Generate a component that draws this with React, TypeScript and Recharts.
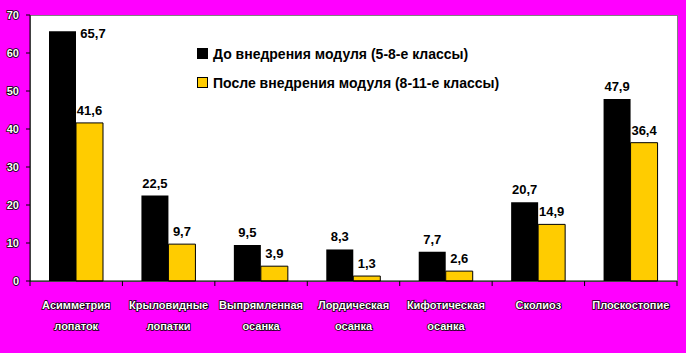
import React from 'react';
import { BarChart, Bar, XAxis, YAxis, LabelList } from 'recharts';

const categories = [
  ['Асимметрия', 'лопаток'],
  ['Крыловидные', 'лопатки'],
  ['Выпрямленная', 'осанка'],
  ['Лордическая', 'осанка'],
  ['Кифотическая', 'осанка'],
  ['Сколиоз', ''],
  ['Плоскостопие', ''],
];
const before = [65.7, 22.5, 9.5, 8.3, 7.7, 20.7, 47.9];
const after = [41.6, 9.7, 3.9, 1.3, 2.6, 14.9, 36.4];
const yTicks = [0, 10, 20, 30, 40, 50, 60, 70];
const seriesNames = ['До внедрения модуля (5-8-е классы)', 'После внедрения модуля (8-11-е классы)'];

const data = categories.map((c, i) => ({
  name: c.join(' '),
  line1: c[0],
  line2: c[1],
  before: before[i],
  after: after[i],
}));

const FONT = 'Arial, "Liberation Sans", sans-serif';
const YELLOW = '#FFCC00';

const outline = {
  fill: '#fff',
  stroke: '#000',
  strokeWidth: 1.6,
  paintOrder: 'stroke' as const,
  fontFamily: FONT,
  fontWeight: 'bold' as const,
};

const YTick = (props: any) => {
  const { x, y, payload } = props;
  return (
    <text x={x} y={y} dy={4} textAnchor="end" fontSize={11} style={outline}>
      {payload.value}
    </text>
  );
};

const XTick = (props: any) => {
  const { x, y, index } = props;
  const d = data[index];
  const band = 647 / data.length;
  const left = x - band / 2;
  return (
    <g>
      <line x1={left} x2={left} y1={y - 8} y2={y - 3} stroke="#000" />
      {index === data.length - 1 && (
        <line x1={left + band} x2={left + band} y1={y - 8} y2={y - 3} stroke="#000" />
      )}
      <text x={x} y={y + 20} textAnchor="middle" fontSize={11} style={outline}>
        {d.line1}
      </text>
      {d.line2 && (
        <text x={x} y={y + 41} textAnchor="middle" fontSize={11} style={outline}>
          {d.line2}
        </text>
      )}
    </g>
  );
};

// labels that would hit the top of the plot go to the right of the bar, as in the original
const ValueLabel = (props: any) => {
  const { x, y, width, value } = props;
  const text = String(value).replace('.', ',');
  let lx = x + width / 2;
  let ly = y - 8;
  if (y < 40) {
    lx = x + width + 17;
    ly = y + 7;
  }
  return (
    <text x={lx} y={ly} textAnchor="middle" fontSize={13} fontWeight="bold" fontFamily={FONT} fill="#000">
      {text}
    </text>
  );
};

const LegendBox = () => (
  <div
    style={{
      position: 'absolute',
      left: 197,
      top: 39,
      fontFamily: FONT,
      fontWeight: 'bold',
      fontSize: 14,
      color: '#000',
      whiteSpace: 'nowrap',
    }}
  >
    {seriesNames.map((n, i) => (
      <div key={n} style={{ display: 'flex', alignItems: 'center', height: 29 }}>
        <span
          style={{
            display: 'inline-block',
            width: 9,
            height: 9,
            background: i === 0 ? '#000' : YELLOW,
            border: '1px solid #000',
            marginRight: 5,
          }}
        />
        {n}
      </div>
    ))}
  </div>
);

export default function App() {
  return (
    <div style={{ position: 'absolute', left: 0, top: 0, width: 686, height: 353, background: '#FF00FF' }}>
      <div
        style={{
          position: 'absolute',
          left: 30,
          top: 15,
          width: 646,
          height: 265,
          background: '#fff',
          border: '1px solid #808080',
        }}
      />
      <div style={{ position: 'absolute', left: 0, top: 0 }}>
        <BarChart
          width={686}
          height={353}
          data={data}
          margin={{ top: 15, right: 9, bottom: 0, left: 0 }}
          barCategoryGap={19}
          barGap={0}
        >
          <XAxis
            dataKey="name"
            height={72}
            stroke="#000"
            tickLine={false}
            tick={<XTick />}
            interval={0}
          />
          <YAxis
            width={30}
            domain={[0, 70]}
            ticks={yTicks}
            stroke="#000"
            tickSize={4}
            tickMargin={7}
            tick={<YTick />}
          />
          <Bar dataKey="before" name={seriesNames[0]} fill="#000" isAnimationActive={false}>
            <LabelList dataKey="before" content={<ValueLabel />} />
          </Bar>
          <Bar dataKey="after" name={seriesNames[1]} fill={YELLOW} stroke="#000" strokeWidth={1} isAnimationActive={false}>
            <LabelList dataKey="after" content={<ValueLabel />} />
          </Bar>
        </BarChart>
      </div>
      <LegendBox />
    </div>
  );
}
